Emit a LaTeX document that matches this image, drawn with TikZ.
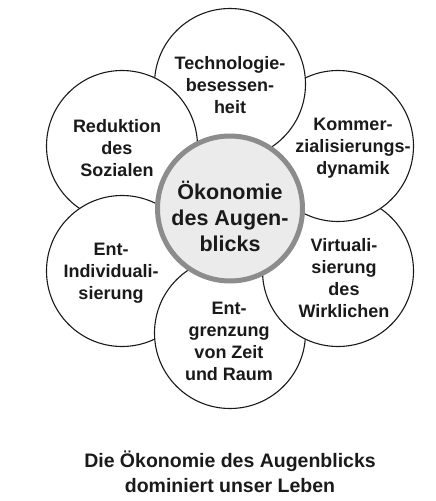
\documentclass[tikz,border=0pt]{standalone}
\usepackage{fontspec}
\setmainfont{Liberation Sans}
\usetikzlibrary{positioning}
\definecolor{ringgray}{HTML}{8C8C8C}
\definecolor{corefill}{HTML}{EBEBEB}
\definecolor{inkblack}{HTML}{1A1A1A}

\begin{document}
\begin{tikzpicture}[x=1pt, y=-1pt,
    petal/.style={circle, draw=inkblack, line width=1.1pt, fill=white, minimum size=151pt, inner sep=0pt},
    core/.style={circle, draw=ringgray, line width=5pt, fill=corefill, minimum size=145pt, inner sep=0pt},
    petaltext/.style={align=center, text=inkblack, font=\fontsize{18}{22}\selectfont\bfseries},
    coretext/.style={align=center, text=inkblack, font=\fontsize{21.5}{26}\selectfont\bfseries},
    caption/.style={align=center, text=inkblack, font=\fontsize{19.5}{25}\selectfont\bfseries}
]
\useasboundingbox (0,0) rectangle (436,501);

% petals, each one lies over its clockwise neighbour
\node[petal] (red) at (122,146) {};
\node[petal] (ind) at (122,271) {};
\node[petal] (gre) at (230,333) {};
\node[petal] (vir) at (338,271) {};
\node[petal] (kom) at (338,146) {};
\node[petal] (tec) at (230,84) {};
\begin{scope}
  \clip (tec.center) circle (78);
  \node[petal] (redtop) at (122,146) {};
\end{scope}

% centre
\node[core] (oek) at (230,208.5) {};

% texts
\node[petaltext] (t-tec) at (230,85) {Technologie-\\besessen-\\heit};
\node[petaltext] (t-red) at (117,148) {Reduktion\\des\\Sozialen};
\node[petaltext] (t-kom) at (353,148) {Kommer-\\zialisierungs-\\dynamik};
\node[petaltext] (t-ind) at (111,273) {Ent-\\Individuali-\\sierung};
\node[petaltext] (t-vir) at (344,278) {Virtuali-\\sierung\\des\\Wirklichen};
\node[petaltext] (t-gre) at (229,341) {Ent-\\grenzung\\von Zeit\\und Raum};
\node[coretext] (t-oek) at (230,216) {Ökonomie\\des Augen-\\blicks};

\node[caption] (cap) at (230,472) {Die Ökonomie des Augenblicks\\dominiert unser Leben};

\end{tikzpicture}
\end{document}
